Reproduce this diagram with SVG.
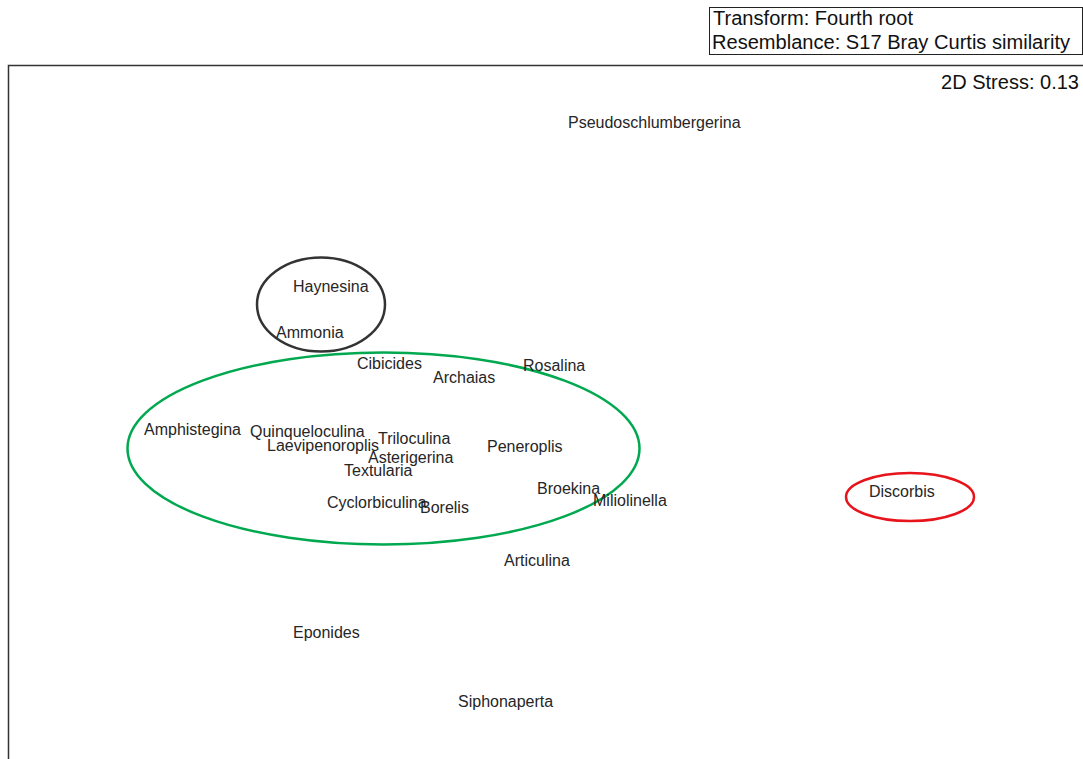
<svg xmlns="http://www.w3.org/2000/svg" width="1083" height="759" viewBox="0 0 1083 759">
<style>
.lbl{font-family:"Liberation Sans",Arial,sans-serif;font-size:16px;fill:#262626}
.leg{font-family:"Liberation Sans",Arial,sans-serif;font-size:19.5px;fill:#111}
.ring{fill:none;stroke-width:2.5}
</style>
<rect width="1083" height="759" fill="#fff"/>
<g id="legend">
<rect x="709.5" y="7.5" width="373" height="47" fill="#fff" stroke="#222" stroke-width="1"/>
<text class="leg" x="713" y="25" textLength="200" lengthAdjust="spacingAndGlyphs">Transform: Fourth root</text>
<text class="leg" x="712" y="49" textLength="358" lengthAdjust="spacingAndGlyphs">Resemblance: S17 Bray Curtis similarity</text>
</g>
<g id="frame">
<path d="M8.5,759 V65.5 H1083" fill="none" stroke="#333" stroke-width="1.5"/>
<text class="leg" x="941" y="89" textLength="138" lengthAdjust="spacingAndGlyphs">2D Stress: 0.13</text>
</g>
<g id="groups">
<ellipse class="ring" cx="321" cy="304.5" rx="64" ry="47" stroke="#333"/>
<ellipse class="ring" cx="383.5" cy="448.5" rx="256" ry="96" stroke="#00a84f"/>
<ellipse class="ring" cx="910" cy="497" rx="64" ry="24" stroke="#e8141b"/>
</g>
<g id="connectors"/>
<g id="n-pseudoschlumbergerina"><text class="lbl" x="568" y="128">Pseudoschlumbergerina</text></g>
<g id="n-haynesina"><text class="lbl" x="293" y="292">Haynesina</text></g>
<g id="n-ammonia"><text class="lbl" x="276" y="338">Ammonia</text></g>
<g id="n-cibicides"><text class="lbl" x="357" y="369">Cibicides</text></g>
<g id="n-rosalina"><text class="lbl" x="523" y="371">Rosalina</text></g>
<g id="n-archaias"><text class="lbl" x="433" y="383">Archaias</text></g>
<g id="n-amphistegina"><text class="lbl" x="144" y="435">Amphistegina</text></g>
<g id="n-quinqueloculina"><text class="lbl" x="250" y="437">Quinqueloculina</text></g>
<g id="n-laevipenoroplis"><text class="lbl" x="267" y="451">Laevipenoroplis</text></g>
<g id="n-triloculina"><text class="lbl" x="378" y="444">Triloculina</text></g>
<g id="n-peneroplis"><text class="lbl" x="487" y="452">Peneroplis</text></g>
<g id="n-asterigerina"><text class="lbl" x="368" y="463">Asterigerina</text></g>
<g id="n-textularia"><text class="lbl" x="344" y="476">Textularia</text></g>
<g id="n-broekina"><text class="lbl" x="537" y="494">Broekina</text></g>
<g id="n-miliolinella"><text class="lbl" x="593" y="506">Miliolinella</text></g>
<g id="n-cyclorbiculina"><text class="lbl" x="327" y="508">Cyclorbiculina</text></g>
<g id="n-borelis"><text class="lbl" x="420" y="513">Borelis</text></g>
<g id="n-discorbis"><text class="lbl" x="869" y="497">Discorbis</text></g>
<g id="n-articulina"><text class="lbl" x="504" y="566">Articulina</text></g>
<g id="n-eponides"><text class="lbl" x="293" y="638">Eponides</text></g>
<g id="n-siphonaperta"><text class="lbl" x="458" y="707">Siphonaperta</text></g>
</svg>
